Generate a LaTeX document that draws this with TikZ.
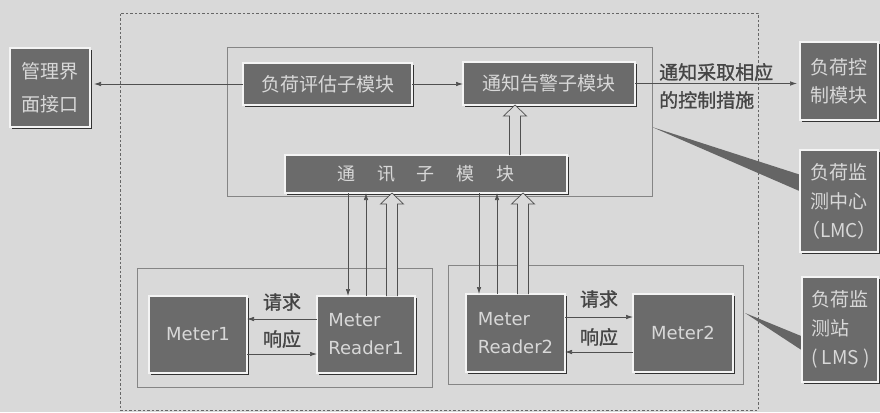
\documentclass[tikz,border=0pt]{standalone}
\usepackage{fontspec}
\newfontfamily\cjk{Noto Sans CJK SC}
\newfontfamily\cjkb{Noto Sans CJK SC}[FakeBold=1.2]
\newfontfamily\lat{DejaVu Sans}
\usetikzlibrary{arrows.meta,shadows,calc,backgrounds}
\definecolor{bg}{HTML}{D9D9D9}
\definecolor{boxfill}{HTML}{6B6B6B}
\definecolor{boxtext}{HTML}{D8D8D8}
\definecolor{rim}{HTML}{F4F4F4}
\definecolor{ln}{HTML}{505050}
\definecolor{framec}{HTML}{858585}
\definecolor{wedgec}{HTML}{656565}
\definecolor{lbl}{HTML}{454545}
\newcommand{\hollowarrow}[2]{\filldraw[hol] ($(#1)+(-5.5,0)$) -- ($(#2)+(-5.5,11)$) -- ($(#2)+(-11.5,11)$) -- (#2) -- ($(#2)+(11.5,11)$) -- ($(#2)+(5.5,11)$) -- ($(#1)+(5.5,0)$);}
\begin{document}
\begin{tikzpicture}[x=1pt,y=-1pt,
 mbox/.style={draw=rim, line width=2pt, fill=boxfill, text=boxtext, inner sep=0pt, outer sep=0pt, anchor=north west, align=center,
   drop shadow={shadow xshift=2.2pt, shadow yshift=-2.2pt, fill=black!80, opacity=1}},
 grp/.style={draw=framec, line width=0.9pt, anchor=north west, inner sep=0pt, outer sep=0pt},
 dgrp/.style={draw=black!60, line width=0.8pt, dash pattern=on 2.5pt off 2pt, anchor=north west, inner sep=0pt, outer sep=0pt},
 arr/.style={draw=ln, line width=0.7pt, -{Latex[length=7pt,width=4.5pt]}},
 hol/.style={draw=ln, line width=0.7pt, fill=bg},
 lbltext/.style={text=lbl, inner sep=0pt, font=\cjkb\fontsize{19}{28}\selectfont},
 cf/.style={font=\cjk\fontsize{19}{29}\selectfont},
 lf/.style={font=\lat\fontsize{18}{28}\selectfont},
]
\begin{scope}[on background layer]
\fill[bg] (0,0) rectangle (880,412);
\end{scope}
\useasboundingbox (0,0) rectangle (880,412);

% frames
\node[dgrp, minimum width=638pt, minimum height=397pt] (outer) at (120,13) {};
\node[grp, minimum width=425pt, minimum height=149pt] (top) at (227,47) {};
\node[grp, minimum width=295pt, minimum height=119pt] (g1) at (137,268) {};
\node[grp, minimum width=295pt, minimum height=119pt] (g2) at (448,265) {};

% boxes
\node[mbox, cf, minimum width=80pt, minimum height=79pt, font=\cjk\fontsize{19}{33}\selectfont] (mgmt) at (10,48) {管理界\\面接口};
\node[mbox, cf, minimum width=169pt, minimum height=42pt] (eval) at (243,63) {负荷评估子模块};
\node[mbox, cf, minimum width=172pt, minimum height=43pt] (alarm) at (463,62) {通知告警子模块};
\node[mbox, cf, minimum width=78pt, minimum height=78pt, font=\cjk\fontsize{19}{28}\selectfont] (ctrl) at (800,42) {负荷控\\制模块};
\node[mbox, minimum width=282pt, minimum height=38pt, font=\cjk\fontsize{18}{24}\selectfont] (comm) at (285,155) {通\hspace{22pt}讯\hspace{22pt}子\hspace{22pt}模\hspace{22pt}块};
\node[mbox, cf, minimum width=78pt, minimum height=102pt] (lmc) at (800,150) {负荷监\\测中心\\（LMC）};
\node[mbox, cf, minimum width=76pt, minimum height=105pt, text width=57pt, align=left] (lms) at (802,277) {负荷监\\测站\\(\kern4pt LMS\kern4pt)};
\node[mbox, lf, minimum width=98pt, minimum height=77pt] (m1) at (149,296) {Meter1};
\node[mbox, lf, minimum width=98pt, minimum height=77pt, align=left] (r1) at (317,296) {Meter\\Reader1};
\node[mbox, lf, minimum width=99pt, minimum height=78pt, align=left] (r2) at (466,294) {Meter\\Reader2};
\node[mbox, lf, minimum width=100pt, minimum height=78pt] (m2) at (633,294) {Meter2};

% labels
\node[lbltext, anchor=west, align=left] (notice) at (659,86) {通知采取相应\\的控制措施};
\node[lbltext] (q1) at (282,302) {请求};
\node[lbltext] (a1) at (282,339) {响应};
\node[lbltext] (q2) at (599,299) {请求};
\node[lbltext] (a2) at (599,337) {响应};

% top connectors
\draw[arr, shorten >=4pt] (eval.west) -- (eval.west -| mgmt.east);
\draw[arr] (eval.east) -- (eval.east -| alarm.west);
\draw[arr, shorten >=3pt] (alarm.east) -- (alarm.east -| ctrl.west);
\coordinate (ha) at ([xshift=-34pt]alarm.south);
\coordinate (hab) at (ha |- comm.north);
\hollowarrow{hab}{ha}

% reader1 <-> comm
\coordinate (d1) at ([xshift=-18pt]r1.north);
\coordinate (u1) at (r1.north);
\coordinate (h1) at ([xshift=26pt]r1.north);
\coordinate (h1t) at (h1 |- comm.south);
\draw[arr] (d1 |- comm.south) -- (d1);
\draw[arr] (u1) -- (u1 |- comm.south);
\hollowarrow{h1}{h1t}

% reader2 <-> comm
\coordinate (d2) at ([xshift=-36.5pt]r2.north);
\coordinate (u2) at ([xshift=-18.5pt]r2.north);
\coordinate (h2) at ([xshift=7.5pt]r2.north);
\coordinate (h2t) at (h2 |- comm.south);
\draw[arr] (d2 |- comm.south) -- (d2);
\draw[arr] (u2) -- (u2 |- comm.south);
\hollowarrow{h2}{h2t}

% meter request/response
\draw[arr] ([yshift=15.5pt]r1.west) -- ([yshift=15.5pt]r1.west -| m1.east);
\draw[arr] ([yshift=-19.5pt]m1.east) -- ([yshift=-19.5pt]m1.east -| r1.west);
\draw[arr] ([yshift=16pt]r2.east) -- ([yshift=16pt]r2.east -| m2.west);
\draw[arr] ([yshift=-19pt]m2.west) -- ([yshift=-19pt]m2.west -| r2.east);

% callout wedges
\begin{scope}[on background layer]
\fill[wedgec] ($(top.north east)+(0,80)$) -- ($(lmc.north west)+(4,26)$) -- ($(lmc.north west)+(4,43)$) -- cycle;
\fill[wedgec] ($(g2.north east)+(2,48)$) -- ($(lms.north west)+(4,61)$) -- ($(lms.north west)+(4,76)$) -- cycle;
\end{scope}
\end{tikzpicture}
\end{document}
